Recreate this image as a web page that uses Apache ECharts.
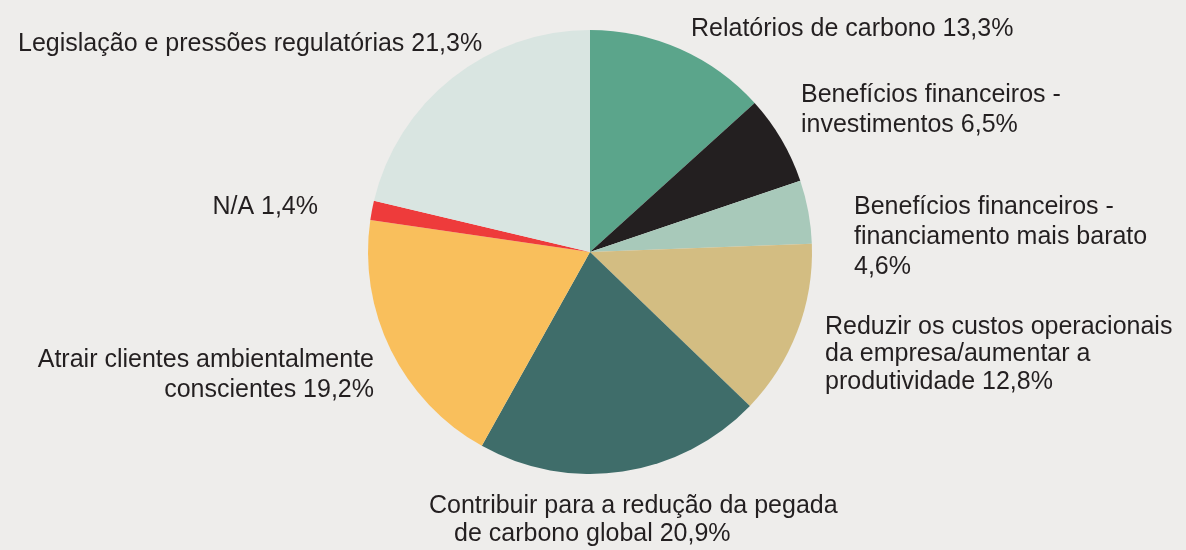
<!DOCTYPE html>
<html>
<head>
    <meta http-equiv=Content-Type content="text/html; charset=utf-8">
    <title>Motivações</title>
    <script type="text/javascript" src="https://cdn.jsdelivr.net/npm/echarts@6/dist/echarts.min.js"></script>
    <style>
        html, body { margin: 0; padding: 0; background: #eeedeb; }
        #chartmain { width: 1186px; height: 550px; }
    </style>
</head>
<body>
<div id="chartmain"></div>
<script type="text/javascript">
    // categorias (com quebras de linha como no original)
    var categorias = [
        'Relatórios de carbono',
        'Benefícios financeiros -\ninvestimentos',
        'Benefícios financeiros -\nfinanciamento mais barato\n',
        'Reduzir os custos operacionais\nda empresa/aumentar a\nprodutividade',
        'Contribuir para a redução da pegada\nde carbono global',
        'Atrair clientes ambientalmente\nconscientes',
        'N/A',
        'Legislação e pressões regulatórias'
    ];
    var valores = [13.3, 6.5, 4.6, 12.8, 20.9, 19.2, 1.4, 21.3];
    var cores = ['#5ba58b', '#231f20', '#a8c9ba', '#d3bd82', '#3f6d6a', '#f9bf5c', '#ee3b3b', '#d9e5e1'];

    // posição dos rótulos: x, topo, alinhamento, altura da linha
    var rotulos = [
        [691, 14, 'left', 30],
        [801, 80, 'left', 30],
        [854, 192, 'left', 30],
        [825, 313, 'left', 27.5],
        [429, 492, 'left', 28],
        [374, 345, 'right', 30],
        [318, 192, 'right', 30],
        [18, 29, 'left', 30]
    ];

    function pct(v) {
        return v.toFixed(1).replace('.', ',') + '%';
    }

    var dados = [];
    for (var i = 0; i < valores.length; i++) {
        var nome = categorias[i];
        var texto;
        if (i == 4) {
            var partes = nome.split('\n');
            texto = '{a|' + partes[0] + '}\n{b|' + partes[1] + ' ' + pct(valores[i]) + '}';
        } else if (nome.charAt(nome.length - 1) == '\n') {
            texto = nome + pct(valores[i]);
        } else {
            texto = nome + ' ' + pct(valores[i]);
        }
        dados.push({
            name: nome,
            value: valores[i],
            itemStyle: { color: cores[i] },
            label: {
                formatter: texto,
                lineHeight: rotulos[i][3],
                rich: {
                    a: { fontSize: 25, lineHeight: rotulos[i][3], color: '#231f20', fontFamily: 'Liberation Sans' },
                    b: { fontSize: 25, lineHeight: rotulos[i][3], color: '#231f20', fontFamily: 'Liberation Sans', padding: [0, 0, 0, 25] }
                }
            }
        });
    }

    var myChart = echarts.init(document.getElementById('chartmain'));
    var option = {
        backgroundColor: '#eeedeb',
        animation: false,
        series: [
            {
                type: 'pie',
                center: [590, 252],
                radius: 222,
                startAngle: 90,
                clockwise: true,
                data: dados,
                label: {
                    show: true,
                    position: 'outside',
                    overflow: 'none',
                    fontSize: 25,
                    fontFamily: 'Liberation Sans',
                    color: '#231f20'
                },
                labelLine: { show: false },
                labelLayout: function (params) {
                    var r = rotulos[params.dataIndex];
                    return { x: r[0], y: r[1], align: r[2], verticalAlign: 'top', width: 600, hideOverlap: false, moveOverlap: null };
                },
                emphasis: { disabled: true }
            }
        ]
    };
    myChart.setOption(option);
</script>
</body>
</html>
